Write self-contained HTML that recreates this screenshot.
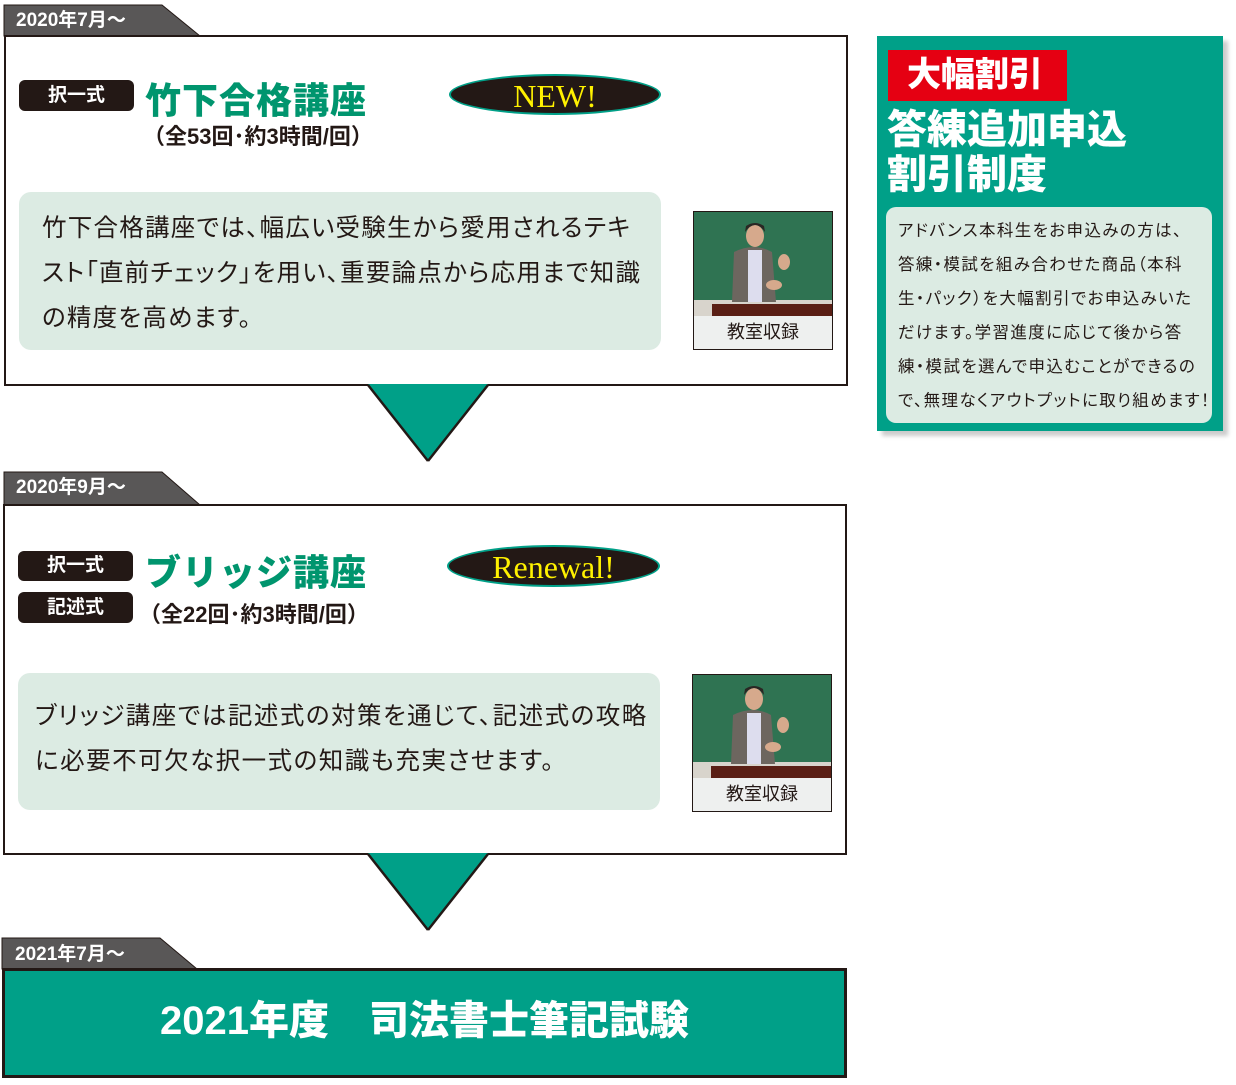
<!DOCTYPE html>
<html><head><meta charset="utf-8"><style>
body{margin:0;width:1236px;height:1085px;background:#fff;position:relative;overflow:hidden;font-family:"Liberation Sans","Noto Sans CJK JP",sans-serif}
.a{position:absolute}
.box{position:absolute;border:2px solid #231815;background:#fff;box-sizing:border-box}
.tab{position:absolute;color:#fff;font-size:19px;font-weight:bold;line-height:31px}
.badge{position:absolute;background:#231815;color:#fff;border-radius:6px;font-size:19px;font-weight:bold;text-align:center;box-sizing:border-box}
.title{position:absolute;color:#00956e;font-size:36px;font-weight:900;white-space:nowrap;letter-spacing:1px}
.sub{position:absolute;color:#231815;font-size:22px;font-weight:bold;white-space:nowrap}
.tb{position:absolute;background:#dcebe3;border-radius:12px;font-size:24.5px;color:#231815;line-height:45px;box-sizing:border-box;white-space:nowrap;font-feature-settings:"palt"}
.oval{position:absolute;background:#231815;border:2px solid #00a088;border-radius:50%;color:#fff100;font-family:"Liberation Serif",serif;font-size:32px;text-align:center;box-sizing:border-box}
.photo{position:absolute;border:1px solid #231815;box-sizing:border-box;background:#eee}
.cap{position:absolute;left:0;right:0;bottom:0;height:33px;background:#eef0ef;font-size:18px;text-align:center;line-height:33px;color:#231815}
</style></head><body>

<svg class="a" style="left:0;top:0" width="1236" height="1085">
<polygon points="4,5 162,5 200,36 4,36" fill="#595757" stroke="#231815" stroke-width="1"/>
<polygon points="4,472 162,472 200,505 4,505" fill="#595757" stroke="#231815" stroke-width="1"/>
<polygon points="2,938 160,938 197,969 2,969" fill="#595757" stroke="#231815" stroke-width="1"/>
</svg>
<div class="tab" style="left:16px;top:5px">2020年7月～</div>
<div class="tab" style="left:16px;top:472px">2020年9月～</div>
<div class="tab" style="left:15px;top:939px">2021年7月～</div>

<div class="box" style="left:4px;top:35px;width:844px;height:351px"></div>
<svg class="a" style="left:0;top:0" width="1236" height="500"><polygon points="368,384 488,384 428,460" fill="#00a088"/><line x1="368" y1="385" x2="428" y2="461" stroke="#231815" stroke-width="2.5"/><line x1="488" y1="385" x2="428" y2="461" stroke="#231815" stroke-width="2.5"/></svg>
<div class="badge" style="left:19px;top:80px;width:115px;height:31px;line-height:31px">択一式</div>
<div class="title" style="left:145px;top:72px">竹下合格講座</div>
<div class="sub" style="left:143px;top:119px">（全53回･約3時間/回）</div>
<div class="oval" style="left:449px;top:74px;width:212px;height:41px;line-height:40px">NEW!</div>
<div class="tb" style="left:19px;top:192px;width:642px;height:158px;padding:14px 0 0 23px;letter-spacing:1.25px">竹下合格講座では、幅広い受験生から愛用されるテキ<br>スト「直前チェック」を用い、重要論点から応用まで知識<br>の精度を高めます。</div>

<div class="box" style="left:3px;top:504px;width:844px;height:351px"></div>
<svg class="a" style="left:0;top:0" width="1236" height="940"><polygon points="368,853 488,853 428,929" fill="#00a088"/><line x1="368" y1="854" x2="428" y2="930" stroke="#231815" stroke-width="2.5"/><line x1="488" y1="854" x2="428" y2="930" stroke="#231815" stroke-width="2.5"/></svg>
<div class="badge" style="left:18px;top:551px;width:115px;height:30px;line-height:30px">択一式</div>
<div class="badge" style="left:18px;top:592px;width:115px;height:31px;line-height:31px">記述式</div>
<div class="title" style="left:145px;top:544px">ブリッジ講座</div>
<div class="sub" style="left:139px;top:597px">（全22回･約3時間/回）</div>
<div class="oval" style="left:447px;top:545px;width:213px;height:42px;line-height:41px">Renewal!</div>
<div class="tb" style="left:18px;top:673px;width:642px;height:137px;padding:21px 0 0 17px;letter-spacing:1.5px">ブリッジ講座では記述式の対策を通じて、記述式の攻略<br>に必要不可欠な択一式の知識も充実させます。</div>

<div class="box" style="left:2px;top:968px;width:845px;height:110px;background:#00a088;border-width:3px"></div>
<div class="a" style="left:2px;top:996px;width:845px;text-align:center;color:#fff;font-size:40px;font-weight:900;white-space:pre;line-height:50px">2021年度　司法書士筆記試験</div>

<div class="photo" style="left:693px;top:211px;width:140px;height:139px"><svg width="138" height="104" style="display:block"><rect width="138" height="104" fill="#2f7352"/><rect x="0" y="88" width="138" height="16" fill="#d8d4cc"/><path d="M38 90 L40 40 Q60 30 78 40 L82 90Z" fill="#6d665f"/><rect x="54" y="38" width="14" height="52" fill="#dde"/><ellipse cx="61" cy="24" rx="9" ry="11" fill="#d6a98c"/><path d="M51 20 Q61 6 71 20 L70 14 Q61 8 52 14Z" fill="#2a2623"/><ellipse cx="90" cy="50" rx="6" ry="8" fill="#d6a98c"/><ellipse cx="80" cy="73" rx="8" ry="5" fill="#d6a98c"/><rect x="18" y="92" width="120" height="12" fill="#5a1f15"/></svg><div class="cap">教室収録</div></div>
<div class="photo" style="left:692px;top:674px;width:140px;height:138px"><svg width="138" height="103" style="display:block"><rect width="138" height="103" fill="#2f7352"/><rect x="0" y="87" width="138" height="16" fill="#d8d4cc"/><path d="M38 89 L40 40 Q60 30 78 40 L82 89Z" fill="#6d665f"/><rect x="54" y="38" width="14" height="51" fill="#dde"/><ellipse cx="61" cy="24" rx="9" ry="11" fill="#d6a98c"/><path d="M51 20 Q61 6 71 20 L70 14 Q61 8 52 14Z" fill="#2a2623"/><ellipse cx="90" cy="50" rx="6" ry="8" fill="#d6a98c"/><ellipse cx="80" cy="72" rx="8" ry="5" fill="#d6a98c"/><rect x="18" y="91" width="120" height="12" fill="#5a1f15"/></svg><div class="cap">教室収録</div></div>

<div class="a" style="left:877px;top:36px;width:346px;height:395px;background:#00a088;box-shadow:5px 5px 4px #ccc"></div>
<div class="a" style="left:888px;top:50px;width:179px;height:51px;background:#e50012;color:#fff;font-size:34px;font-weight:900;line-height:51px;text-indent:19px">大幅割引</div>
<div class="a" style="left:887px;top:108px;color:#fff;font-size:40px;font-weight:900;line-height:45px;letter-spacing:0px">答練追加申込<br>割引制度</div>
<div class="a" style="left:886px;top:207px;width:326px;height:216px;background:#dcebe3;border-radius:10px;box-sizing:border-box;padding:7px 0 0 12px;font-size:16.5px;line-height:34px;color:#231815;white-space:nowrap;font-feature-settings:'palt';letter-spacing:1.4px">アドバンス本科生をお申込みの方は、<br>答練・模試を組み合わせた商品（本科<br>生・パック）を大幅割引でお申込みいた<br>だけます。学習進度に応じて後から答<br>練・模試を選んで申込むことができるの<br>で、無理なくアウトプットに取り組めます！</div>
</body></html>
